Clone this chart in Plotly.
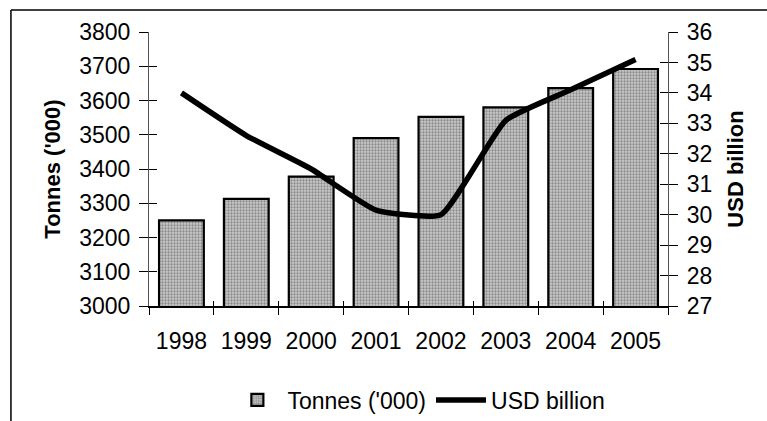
import plotly.graph_objects as go

years = ["1998", "1999", "2000", "2001", "2002", "2003", "2004", "2005"]
tonnes = [3250, 3313, 3378, 3490, 3552, 3580, 3636, 3692]
usd_billion = [34.0, 32.6, 31.5, 30.15, 30.0, 33.1, 34.1, 35.1]

FONT = "Liberation Sans, Arial, sans-serif"
FS = 23

fig = go.Figure()
fig.add_trace(go.Bar(
    x=years, y=tonnes, name="Tonnes ('000)",
    marker=dict(color="#cacaca", line=dict(color="black", width=2.2),
                pattern=dict(shape=".", fgcolor="#4a4a4a", size=3, solidity=0.45)),
    width=0.69,
))
fig.add_trace(go.Scatter(
    x=years, y=usd_billion, name="USD billion", yaxis="y2",
    mode="lines", line=dict(color="black", width=5.5, shape="spline", smoothing=0.45),
))

fig.update_layout(
    width=767, height=421,
    margin=dict(l=149, r=99, t=32, b=115, autoexpand=False),
    paper_bgcolor="white", plot_bgcolor="white",
    font=dict(family=FONT, size=FS, color="black"),
    showlegend=True,
    legend=dict(orientation="h", x=0.52, xanchor="center", xref="paper",
                y=0.05, yanchor="middle", yref="container",
                font=dict(size=FS), traceorder="normal", itemwidth=50,
                bgcolor="rgba(0,0,0,0)"),
    xaxis=dict(type="category", range=[-0.5, 7.5], showgrid=False, showline=True,
               linecolor="black", linewidth=2, ticks="outside", ticklen=7, tickwidth=1.2,
               tickcolor="black", tickson="boundaries", tickfont=dict(size=FS),
               ticklabelstandoff=13, automargin=False),
    yaxis=dict(range=[3000, 3800], dtick=100, showgrid=False, showline=True,
               linecolor="#555", linewidth=1.2, ticks="outside", ticklen=9, tickwidth=1.2,
               tickcolor="black", tickfont=dict(size=FS), zeroline=False,
               ticklabelstandoff=4, automargin=False,
               title=dict(text="<b>Tonnes ('000)</b>", font=dict(size=22), standoff=12)),
    yaxis2=dict(range=[27, 36], dtick=1, overlaying="y", side="right", showgrid=False,
                showline=True, linecolor="#555", linewidth=1.2, ticks="outside", ticklen=9,
                tickwidth=1.2, tickcolor="black", tickfont=dict(size=FS), zeroline=False,
                ticklabelstandoff=4, automargin=False,
                title=dict(text="<b>USD billion</b>", font=dict(size=22), standoff=16)),
    # duplicate axes carrying inward ticks so the tick marks cross the axis lines
    xaxis3=dict(overlaying="x", range=[-0.5, 7.5], tickvals=[i - 0.5 for i in range(9)],
                ticks="inside", ticklen=5, tickwidth=1.2, tickcolor="black",
                showticklabels=False, showgrid=False, showline=False, zeroline=False,
                anchor="y", side="bottom"),
    yaxis3=dict(overlaying="y", range=[3000, 3800], dtick=100, ticks="inside", ticklen=8,
                tickwidth=1.2, tickcolor="black", showticklabels=False, showgrid=False,
                showline=False, zeroline=False, anchor="x", side="left"),
    yaxis4=dict(overlaying="y", range=[27, 36], dtick=1, ticks="inside", ticklen=8,
                tickwidth=1.2, tickcolor="black", showticklabels=False, showgrid=False,
                showline=False, zeroline=False, anchor="x", side="right"),
    shapes=[
        dict(type="line", xref="paper", yref="paper", x0=-0.266, x1=1.2, y0=1.08, y1=1.08,
             line=dict(color="black", width=1.5)),
        dict(type="line", xref="paper", yref="paper", x0=-0.266, x1=-0.266, y0=1.08, y1=-0.43,
             line=dict(color="black", width=1.5)),
    ],
)

# invisible traces to activate the duplicate tick axes
fig.add_trace(go.Scatter(x=[0], y=[3000], xaxis="x3", yaxis="y3", mode="markers",
                         marker=dict(opacity=0), showlegend=False, hoverinfo="skip"))
fig.add_trace(go.Scatter(x=[0], y=[27], xaxis="x3", yaxis="y4", mode="markers",
                         marker=dict(opacity=0), showlegend=False, hoverinfo="skip"))

fig.write_html("out.html")
